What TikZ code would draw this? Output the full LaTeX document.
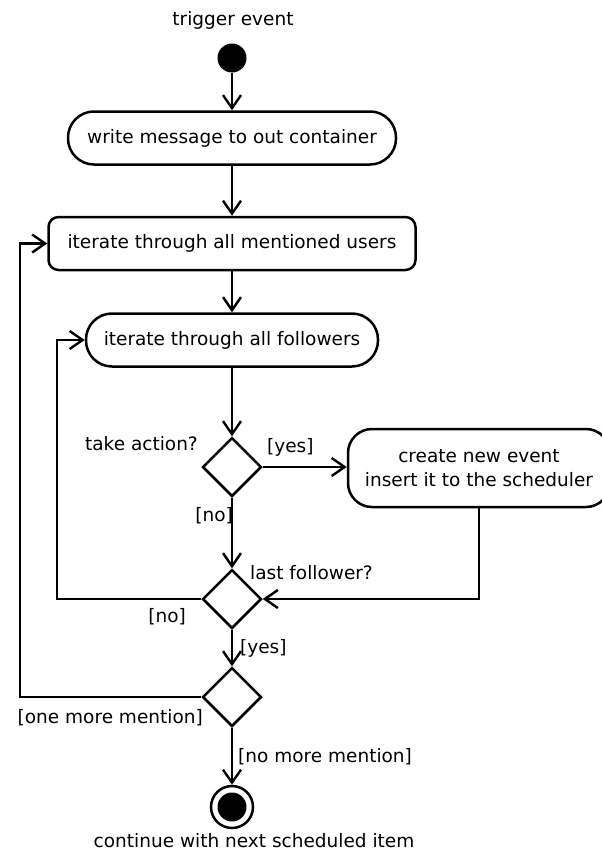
\documentclass[tikz,border=0pt]{standalone}
\usepackage{fontspec}
\setmainfont{DejaVu Sans}
\usetikzlibrary{arrows.meta,shapes.geometric,calc}

\tikzset{
  every picture/.style={x=1pt,y=-1pt},
  flow/.style={line width=2.5pt,-{Straight Barb[length=13pt,width=18pt,line width=2.4pt]}},
  stadium/.style={draw,line width=2.5pt,rounded corners=26pt,minimum height=53pt,inner sep=0pt,align=center},
  actbox/.style={draw,line width=2.5pt,rounded corners=10pt,minimum height=53pt,inner sep=0pt,align=center},
  decision/.style={draw,diamond,line width=2.5pt,minimum width=59pt,minimum height=59pt,inner sep=0pt},
  lbl/.style={inner sep=0pt,align=center},
}

\begin{document}
\begin{tikzpicture}[font=\fontsize{18.5}{24}\selectfont]
  \clip (0,0) rectangle (602,854);
  \useasboundingbox (0,0) rectangle (602,854);

  % start and end markers
  \node[lbl] (trig) at (233,20) {trigger event};
  \node[circle,fill=black,minimum size=29pt,inner sep=0pt] (init) at (232,58) {};

  % activities
  \node[stadium,minimum width=328pt] (write) at (232,138) {write message to out container};
  \node[actbox,minimum width=367pt] (users) at (232,243.5) {iterate through all mentioned users};
  \node[stadium,minimum width=292pt] (foll) at (232,340) {iterate through all followers};
  \node[stadium,minimum width=262pt,minimum height=78pt,rounded corners=24pt] (act) at (479,468)
    {create new event\\insert it to the scheduler};

  % decisions
  \node[decision] (dA) at (232,467) {};
  \node[decision] (dB) at (232,599) {};
  \node[decision] (dC) at (232,697) {};

  % final node
  \node[circle,draw,line width=2.5pt,minimum size=42pt,inner sep=0pt] (fin) at (232,807) {};
  \node[circle,fill=black,minimum size=29pt,inner sep=0pt] (finc) at (fin) {};
  \node[lbl] (cont) at (254,841) {continue with next scheduled item};

  % loop corners
  \coordinate (lpF) at (57,340);
  \coordinate (lpU) at (20,243.5);

  % connectors
  \draw[flow] (init) -- (write);
  \draw[flow] (write) -- (users);
  \draw[flow] (users) -- (foll);
  \draw[flow] (foll) -- (dA);
  \draw[flow] (dA.east) -- (dA.east -| act.west);
  \draw[flow] (dA) -- (dB);
  \draw[flow] (act.south) |- (dB.east);
  \draw[flow] (dB.west) -| (lpF) -- (foll.west);
  \draw[flow] (dB) -- (dC);
  \draw[flow] (dC.west) -| (lpU) -- (users.west);
  \draw[flow] (dC) -- (fin);

  % guards and questions
  \node[lbl,anchor=east] (qA) at (198,444) {take action?};
  \node[lbl,anchor=west] (yA) at (267,447) {[yes]};
  \node[lbl,anchor=east] (nA) at (233,516) {[no]};
  \node[lbl,anchor=west] (qB) at (250,573) {last follower?};
  \node[lbl,anchor=east] (nB) at (186,617) {[no]};
  \node[lbl,anchor=west] (yB) at (240,648) {[yes]};
  \node[lbl,anchor=east] (oC) at (203,718) {[one more mention]};
  \node[lbl,anchor=west] (nC) at (238,757) {[no more mention]};
\end{tikzpicture}
\end{document}
